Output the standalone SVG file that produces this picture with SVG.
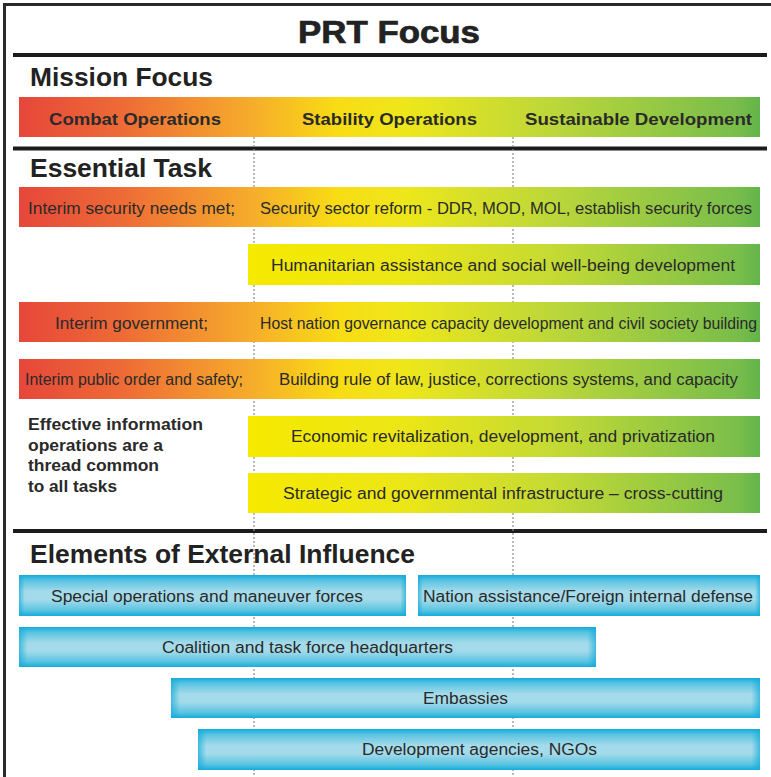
<svg xmlns="http://www.w3.org/2000/svg" width="771" height="777" viewBox="0 0 771 777">
<defs>
<linearGradient id="gFull" gradientUnits="userSpaceOnUse" x1="19" y1="0" x2="760" y2="0">
<stop offset="0" stop-color="#e6473a"/>
<stop offset="0.14" stop-color="#ee6b36"/>
<stop offset="0.31" stop-color="#f6ab2c"/>
<stop offset="0.43" stop-color="#f8dc14"/>
<stop offset="0.52" stop-color="#eee71a"/>
<stop offset="0.72" stop-color="#bcd73a"/>
<stop offset="0.97" stop-color="#78bd4b"/>
<stop offset="1" stop-color="#62b44a"/>
</linearGradient>
<linearGradient id="gPart" gradientUnits="userSpaceOnUse" x1="248" y1="0" x2="760" y2="0">
<stop offset="0" stop-color="#f6ea00"/>
<stop offset="0.3" stop-color="#ece616"/>
<stop offset="0.6" stop-color="#c4da34"/>
<stop offset="0.96" stop-color="#7abe4b"/>
<stop offset="1" stop-color="#62b44a"/>
</linearGradient>
<linearGradient id="gBlue" x1="0" y1="0" x2="0" y2="1">
<stop offset="0" stop-color="#14acd9"/>
<stop offset="0.14" stop-color="#5cc4e2"/>
<stop offset="0.4" stop-color="#a4dbea"/>
<stop offset="0.6" stop-color="#a4dbea"/>
<stop offset="0.86" stop-color="#5cc4e2"/>
<stop offset="1" stop-color="#14acd9"/>
</linearGradient>
<linearGradient id="gBlueEdge" x1="0" y1="0" x2="1" y2="0">
<stop offset="0" stop-color="#14acd9" stop-opacity="0.7"/>
<stop offset="0.015" stop-color="#14acd9" stop-opacity="0"/>
<stop offset="0.985" stop-color="#14acd9" stop-opacity="0"/>
<stop offset="1" stop-color="#14acd9" stop-opacity="0.7"/>
</linearGradient>
<style>
.frame{stroke:#2a2a2a;stroke-width:3;fill:none}
.rule{stroke:#1c1c1c;stroke-width:4}
.guide{stroke:#8c8c8c;stroke-width:1.2;stroke-dasharray:2 2;fill:none}
.h{font-family:"Liberation Sans",Arial,sans-serif;font-weight:bold;fill:#222}
.lbl{font-family:"Liberation Sans",Arial,sans-serif;font-weight:bold;font-size:17px;fill:#2a2a2a}
.t{font-family:"Liberation Sans",Arial,sans-serif;font-size:16px;fill:#2a2a2a}
.note{font-family:"Liberation Sans",Arial,sans-serif;font-weight:bold;font-size:16px;fill:#2a2a2a}
.full{fill:url(#gFull)}
.part{fill:url(#gPart)}
.blue{fill:url(#gBlue)}
.edge{fill:url(#gBlueEdge)}
</style>
</defs>
<rect width="771" height="777" fill="#ffffff"/>
<path class="frame" d="M4.5 790 V4.5 H771"/>
<line class="rule" x1="13" y1="55" x2="767" y2="55"/>
<line class="rule" x1="13" y1="148.5" x2="767" y2="148.5"/>
<line class="rule" x1="13" y1="531" x2="767" y2="531"/>

<g id="connectors">
<line class="guide" x1="254" y1="137" x2="254" y2="777"/>
<line class="guide" x1="513" y1="137" x2="513" y2="777"/>
</g>

<g id="title"><text class="h" x="298" y="43" font-size="32" stroke="#222" stroke-width="0.7" textLength="182" lengthAdjust="spacingAndGlyphs">PRT Focus</text></g>

<g id="mission-focus">
<text class="h" x="30" y="86" font-size="25" textLength="183" lengthAdjust="spacingAndGlyphs">Mission Focus</text>
<rect class="full" x="19" y="97" width="741" height="40"/>
<text class="lbl" x="49" y="125" textLength="172" lengthAdjust="spacingAndGlyphs">Combat Operations</text>
<text class="lbl" x="302" y="125" textLength="175" lengthAdjust="spacingAndGlyphs">Stability Operations</text>
<text class="lbl" x="525" y="125" textLength="227" lengthAdjust="spacingAndGlyphs">Sustainable Development</text>
</g>

<g id="essential-task">
<text class="h" x="30" y="177" font-size="25" textLength="182" lengthAdjust="spacingAndGlyphs">Essential Task</text>
</g>

<g id="task-security">
<rect class="full" x="19" y="187" width="741" height="40"/>
<text class="t" x="28" y="214" textLength="207" lengthAdjust="spacingAndGlyphs">Interim security needs met;</text>
<text class="t" x="260" y="214" textLength="492" lengthAdjust="spacingAndGlyphs">Security sector reform - DDR, MOD, MOL, establish security forces</text>
</g>

<g id="task-humanitarian">
<rect class="part" x="248" y="244" width="512" height="41"/>
<text class="t" x="271" y="271" textLength="464" lengthAdjust="spacingAndGlyphs">Humanitarian assistance and social well-being development</text>
</g>

<g id="task-government">
<rect class="full" x="19" y="302" width="741" height="40"/>
<text class="t" x="55" y="329" textLength="153" lengthAdjust="spacingAndGlyphs">Interim government;</text>
<text class="t" x="260" y="329" textLength="497" lengthAdjust="spacingAndGlyphs">Host nation governance capacity development and civil society building</text>
</g>

<g id="task-public-order">
<rect class="full" x="19" y="359" width="741" height="40"/>
<text class="t" x="25" y="385" textLength="218" lengthAdjust="spacingAndGlyphs">Interim public order and safety;</text>
<text class="t" x="279" y="385" textLength="459" lengthAdjust="spacingAndGlyphs">Building rule of law, justice, corrections systems, and capacity</text>
</g>

<g id="task-economic">
<rect class="part" x="248" y="416" width="512" height="41"/>
<text class="t" x="291" y="442" textLength="424" lengthAdjust="spacingAndGlyphs">Economic revitalization, development, and privatization</text>
</g>

<g id="task-infrastructure">
<rect class="part" x="248" y="473" width="512" height="40"/>
<text class="t" x="283" y="499" textLength="440" lengthAdjust="spacingAndGlyphs">Strategic and governmental infrastructure – cross-cutting</text>
</g>

<g id="info-ops-note">
<text class="note" x="28" y="430" textLength="175" lengthAdjust="spacingAndGlyphs">Effective information</text>
<text class="note" x="28" y="451" textLength="135" lengthAdjust="spacingAndGlyphs">operations are a</text>
<text class="note" x="28" y="471" textLength="131" lengthAdjust="spacingAndGlyphs">thread common</text>
<text class="note" x="28" y="492" textLength="89" lengthAdjust="spacingAndGlyphs">to all tasks</text>
</g>

<g id="external-influence">
<text class="h" x="30" y="563" font-size="25" textLength="385" lengthAdjust="spacingAndGlyphs">Elements of External Influence</text>
</g>

<g id="ext-special-ops">
<rect class="blue" x="19" y="575" width="387" height="41"/>
<rect class="edge" x="19" y="575" width="387" height="41"/>
<text class="t" x="51" y="602" textLength="312" lengthAdjust="spacingAndGlyphs">Special operations and maneuver forces</text>
</g>

<g id="ext-nation-assistance">
<rect class="blue" x="418" y="575" width="342" height="41"/>
<rect class="edge" x="418" y="575" width="342" height="41"/>
<text class="t" x="423" y="602" textLength="330" lengthAdjust="spacingAndGlyphs">Nation assistance/Foreign internal defense</text>
</g>

<g id="ext-coalition">
<rect class="blue" x="19" y="627" width="577" height="40"/>
<rect class="edge" x="19" y="627" width="577" height="40"/>
<text class="t" x="162" y="653" textLength="291" lengthAdjust="spacingAndGlyphs">Coalition and task force headquarters</text>
</g>

<g id="ext-embassies">
<rect class="blue" x="171" y="678" width="589" height="40"/>
<rect class="edge" x="171" y="678" width="589" height="40"/>
<text class="t" x="423" y="704" textLength="85" lengthAdjust="spacingAndGlyphs">Embassies</text>
</g>

<g id="ext-development">
<rect class="blue" x="198" y="729" width="562" height="41"/>
<rect class="edge" x="198" y="729" width="562" height="41"/>
<text class="t" x="362" y="755" textLength="235" lengthAdjust="spacingAndGlyphs">Development agencies, NGOs</text>
</g>
</svg>
